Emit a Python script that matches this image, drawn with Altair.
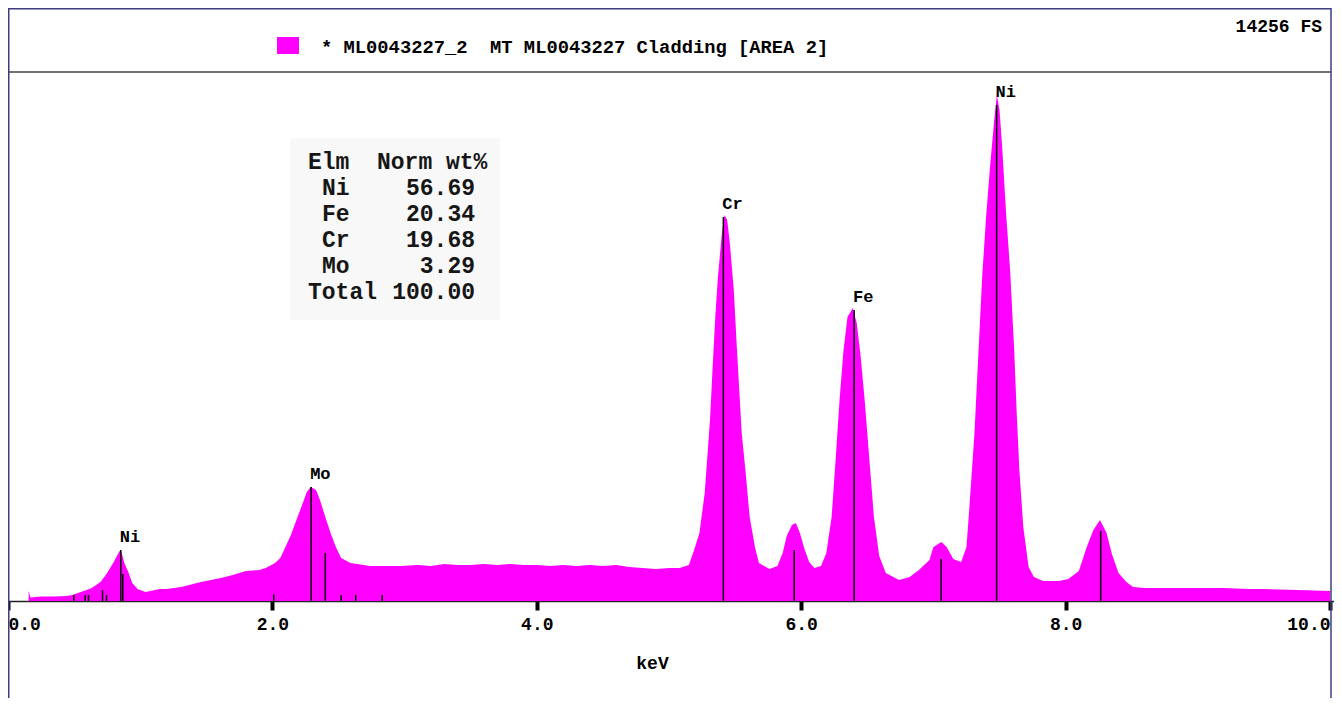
import altair as alt
import pandas as pd

# ---------------- data ----------------
spec_kev = [0.156, 0.17, 0.25, 0.35, 0.44, 0.48, 0.55, 0.63, 0.70, 0.75, 0.80, 0.84, 0.85, 0.86,
            0.88, 0.91, 0.94, 0.98, 1.04, 1.15, 1.20, 1.31, 1.40, 1.46, 1.61, 1.70, 1.80, 1.90, 1.95,
            2.02, 2.06, 2.14, 2.19, 2.23, 2.26, 2.29, 2.33, 2.36, 2.40, 2.44, 2.48, 2.52, 2.59,
            2.74, 2.97, 3.1, 3.2, 3.3, 3.4, 3.5, 3.6, 3.7, 3.8, 3.9, 4.0, 4.1, 4.2, 4.3, 4.4,
            4.5, 4.6, 4.7, 4.8, 4.9, 5.00, 5.08, 5.15, 5.19, 5.23, 5.27, 5.31, 5.33, 5.35, 5.37,
            5.40, 5.42, 5.44, 5.46, 5.49, 5.51, 5.53, 5.55, 5.58, 5.61, 5.65, 5.68, 5.76, 5.82,
            5.86, 5.89, 5.93, 5.96, 5.99, 6.02, 6.06, 6.10, 6.15, 6.19, 6.23, 6.26, 6.29, 6.32,
            6.35, 6.39, 6.42, 6.45, 6.48, 6.52, 6.55, 6.59, 6.64, 6.74, 6.82, 6.89, 6.97, 7.00,
            7.06, 7.10, 7.15, 7.21, 7.25, 7.27, 7.31, 7.34, 7.37, 7.40, 7.43, 7.46, 7.48, 7.50,
            7.52, 7.55, 7.58, 7.61, 7.63, 7.65, 7.68, 7.72, 7.76, 7.83, 7.95, 8.02, 8.10, 8.16,
            8.21, 8.26, 8.31, 8.35, 8.40, 8.46, 8.51, 8.60, 8.70, 9.00, 9.20, 9.38, 9.50, 9.76,
            10.0]
spec_counts = [270, 95, 121, 121, 135, 154, 243, 342, 512, 755, 1051, 1321, 1374, 1294,
               1024, 782, 485, 323, 243, 323, 323, 377, 458, 512, 620, 701, 809, 835, 889,
               1024, 1159, 1779, 2264, 2641, 2938, 3072, 2991, 2722, 2264, 1833, 1455, 1159, 1024,
               943, 943, 970, 943, 997, 970, 970, 997, 970, 997, 970, 970, 943, 970, 943, 970,
               943, 970, 916, 889, 862, 889, 889, 970, 1374, 1833, 2911, 4878, 6306, 7654, 8732,
               9918, 10403, 10268, 9648, 8381, 7034, 5767, 4528, 3450, 2264, 1455, 1024, 862, 943,
               1294, 1752, 2048, 2102, 1833, 1455, 1051, 889, 943, 1294, 2264, 3800, 5417, 6764,
               7654, 7896, 7492, 6576, 5417, 3611, 2264, 1213, 755, 566, 647, 835, 1105, 1455,
               1590, 1455, 1132, 1051, 1455, 2426, 4501, 6657, 8813, 10430, 11777, 12963, 13637, 13232,
               12235, 10430, 8920, 6845, 5067, 3530, 1994, 916, 647, 539, 539, 593, 809, 1455,
               1913, 2183, 1833, 1267, 755, 512, 377, 350, 350, 350, 350, 323, 323, 296,
               270]

# KLM marker lines
marker_kev = [0.498, 0.584, 0.609, 0.715, 0.745, 0.853, 0.868, 2.01, 2.293, 2.40, 2.52, 2.63, 2.83,
              5.411, 5.947, 6.40, 7.058, 7.478, 8.265]
marker_counts = [162, 162, 162, 296, 162, 1374, 728, 180, 3072, 1294, 162, 162, 162,
                 10349, 1374, 7842, 1132, 13367, 1887]

# element labels
label_text = ["Ni", "Mo", "Cr", "Fe", "Ni"]
label_kev = [0.853, 2.293, 5.411, 6.40, 7.478]
label_counts = [1374, 3072, 10349, 7842, 13367]

# quantification table
tbl_elements = ["Ni", "Fe", "Cr", "Mo"]
tbl_wt = [56.69, 20.34, 19.68, 3.29]
tbl_total = 100.00

legend_label = "* ML0043227_2  MT ML0043227 Cladding [AREA 2]"
full_scale = "14256 FS"
x_ticks = [0, 2, 4, 6, 8, 10]

# ---------------- chart ----------------
MONO = "Liberation Mono"
MAG = "#ff00ff"
W, H = 1326, 690
NB = "\u00a0"

x_scale = alt.Scale(domain=[0, 10.03], nice=False, zero=False)
y_scale = alt.Scale(domain=[-2614, 15981], nice=False, zero=False)

spec_df = pd.DataFrame({"keV": spec_kev, "counts": spec_counts})
mark_df = pd.DataFrame({"keV": marker_kev, "counts": marker_counts})
lab_df = pd.DataFrame({"keV": label_kev, "counts": label_counts, "t": label_text})

x_axis = alt.Axis(values=x_ticks, format=".1f", grid=False, offset=-97,
                  labelFont=MONO, labelFontSize=18, labelFontWeight="bold", labelColor="black",
                  labelAlign=alt.expr("datum.value >= 10 ? 'right' : datum.value <= 0 ? 'left' : 'center'"),
                  labelPadding=5,
                  tickColor="black", tickWidth=4, tickSize=9,
                  domainColor="#222222", domainWidth=1.5,
                  title="keV", titleFont=MONO, titleFontSize=18, titleFontWeight="bold",
                  titleColor="black", titleX=644, titleY=62, titleBaseline="middle")


def one():
    return alt.Chart(pd.DataFrame({"a": [0]}))


# table background
tbl_bg = one().mark_rect(color="#f8f8f8").encode(
    x=alt.value(282), x2=alt.value(492), y=alt.value(130), y2=alt.value(312))

area = alt.Chart(spec_df).mark_area(color=MAG, interpolate="linear").encode(
    x=alt.X("keV:Q", scale=x_scale, axis=x_axis),
    y=alt.Y("counts:Q", scale=y_scale, axis=None),
    y2=alt.datum(0))

markers = alt.Chart(mark_df).mark_rule(color="black", strokeWidth=1.5).encode(
    x=alt.X("keV:Q", scale=x_scale),
    y=alt.Y("counts:Q", scale=y_scale, axis=None),
    y2=alt.datum(0))

labels = alt.Chart(lab_df).mark_text(align="left", baseline="middle", dy=-13, dx=-1,
                                     font=MONO, fontSize=17, fontWeight="bold",
                                     color="black").encode(
    x=alt.X("keV:Q", scale=x_scale),
    y=alt.Y("counts:Q", scale=y_scale, axis=None),
    text="t:N")

# quantification table cells
tbl_layers = []


def cell(txt, x, y, align):
    return one().mark_text(align=align, baseline="middle", font=MONO, fontSize=23,
                           fontWeight="bold", color="#161616").encode(
        x=alt.value(x), y=alt.value(y), text=alt.value(txt))


ROW0, ROWH = 154, 26
tbl_layers.append(cell("Elm", 300, ROW0, "left"))
tbl_layers.append(cell("Norm" + NB + "wt%", 369, ROW0, "left"))
for i, (e, v) in enumerate(zip(tbl_elements, tbl_wt), start=1):
    tbl_layers.append(cell(e, 314, ROW0 + ROWH * i, "left"))
    tbl_layers.append(cell(f"{v:.2f}", 467, ROW0 + ROWH * i, "right"))
tbl_layers.append(cell("Total", 300, ROW0 + ROWH * 5, "left"))
tbl_layers.append(cell(f"{tbl_total:.2f}", 467, ROW0 + ROWH * 5, "right"))

legend_sq = one().mark_rect(color=MAG).encode(
    x=alt.value(269), x2=alt.value(291), y=alt.value(29), y2=alt.value(46))
legend_txt = one().mark_text(
    align="left", baseline="middle", font=MONO, fontSize=18.8, fontWeight="bold",
    color="black").encode(x=alt.value(313), y=alt.value(39),
                          text=alt.value(legend_label.replace(" ", NB)))
fs_txt = one().mark_text(
    align="right", baseline="middle", font=MONO, fontSize=18, fontWeight="bold",
    color="black").encode(x=alt.value(1314), y=alt.value(19),
                          text=alt.value(full_scale.replace(" ", NB)))

frame_col = "#3c3c80"
borders = [
    one().mark_rule(color=frame_col, strokeWidth=1.5).encode(
        x=alt.value(0.75), y=alt.value(0), y2=alt.value(H)),
    one().mark_rule(color=frame_col, strokeWidth=1.5).encode(
        x=alt.value(1323), y=alt.value(0), y2=alt.value(H)),
    one().mark_rule(color=frame_col, strokeWidth=1.5).encode(
        x=alt.value(0), x2=alt.value(1323), y=alt.value(0.75)),
    one().mark_rule(color="#444444", strokeWidth=1.5).encode(
        x=alt.value(0), x2=alt.value(1323), y=alt.value(64)),
]

chart = alt.layer(tbl_bg, area, markers, labels, *tbl_layers, legend_sq, legend_txt, fs_txt,
                  *borders).properties(
    width=W, height=H, padding=0, autosize=alt.AutoSizeParams(type="none"),
    background="white"
).configure_view(stroke=None)

chart.save("out.html", embed_options={"renderer": "svg", "actions": False})
